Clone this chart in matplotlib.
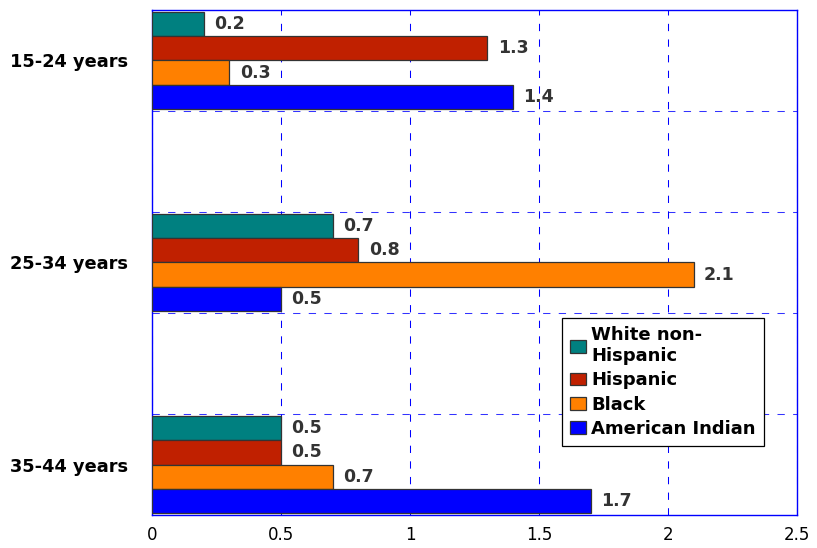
import numpy as np
import matplotlib.pyplot as plt

ages = ['15-24 years', '25-34 years', '35-44 years']
groups = ['White non-\nHispanic', 'Hispanic', 'Black', 'American Indian']
white = [0.2, 0.7, 0.5]
hispanic = [1.3, 0.8, 0.5]
black = [0.3, 2.1, 0.7]
american_indian = [1.4, 0.5, 1.7]
colors = ['#008080', '#C02000', '#FF8000', '#0000FF']

series = [white, hispanic, black, american_indian]

fig = plt.figure(figsize=(8.17, 5.48), dpi=100)
ax = fig.add_axes([0.186, 0.0602, 0.7895, 0.9216])

gap = 8.4
centers = np.arange(len(ages)) * gap
for i, (vals, col, name) in enumerate(zip(series, colors, groups)):
    y = centers - 1.5 + i
    bars = ax.barh(y, vals, height=1.0, color=col, edgecolor='#333333',
                   linewidth=0.9, label=name, zorder=3)
    for b, v in zip(bars, vals):
        ax.text(v + 0.04, b.get_y() + 0.5, str(v), va='center', ha='left',
                fontsize=12.5, fontweight='bold', color='#333333', zorder=4)

ax.set_xlim(0, 2.5)
ax.set_ylim(centers[-1] + 2.1, -2.1)
ax.set_xticks([0, 0.5, 1, 1.5, 2, 2.5])
ax.set_xticklabels(['0', '0.5', '1', '1.5', '2', '2.5'])
ax.set_yticks(centers)
ax.set_yticklabels(ages, fontweight='bold')
ax.tick_params(axis='x', length=0, pad=8, labelsize=12)
ax.tick_params(axis='y', length=0, pad=17, labelsize=12.8)

dash = (0, (7, 8))
ax.xaxis.grid(True, color='#0000FF', linestyle=dash, linewidth=0.75, zorder=0)
for f in [0.2, 0.4, 0.6, 0.8]:
    ax.plot([0, 1], [f, f], transform=ax.transAxes, color='#3333FF',
            linestyle=dash, linewidth=0.75, zorder=1)

for s in ax.spines.values():
    s.set_color('#0000FF')
    s.set_linewidth(1)

leg = ax.legend(loc='upper left', bbox_to_anchor=(0.636, 0.39),
                prop={'weight': 'bold', 'size': 13}, frameon=True,
                fancybox=False, handlelength=0.85, handleheight=0.7,
                handletextpad=0.3, borderpad=0.45, borderaxespad=0,
                labelspacing=0.35, framealpha=1)
leg.get_frame().set_edgecolor('black')
leg.get_frame().set_linewidth(0.9)
leg.set_zorder(5)

plt.savefig('out.png', dpi=100)
